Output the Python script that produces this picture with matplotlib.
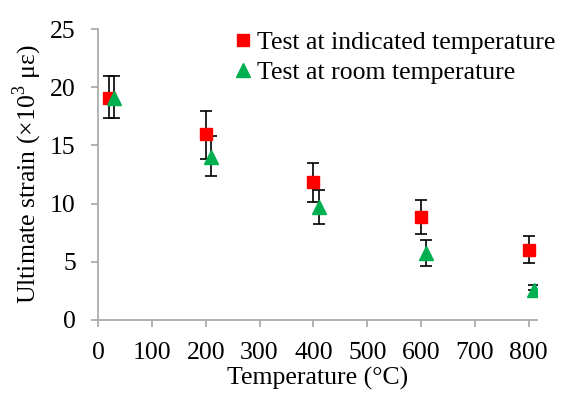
import matplotlib
matplotlib.use('Agg')
import matplotlib.pyplot as plt

# data
temp_hot = [20, 200, 400, 600, 800]
strain_hot = [19.1, 15.95, 11.85, 8.85, 6.0]
hot_lo = [17.35, 13.8, 10.1, 7.4, 4.9]
hot_hi = [20.95, 17.95, 13.5, 10.3, 7.2]

temp_room = [30, 210, 410, 610, 810]
strain_room = [19.1, 14.0, 9.7, 5.75, 2.6]
room_lo = [17.35, 12.4, 8.25, 4.65, 2.55]
room_hi = [20.95, 15.8, 11.2, 6.9, 3.0]

plt.rcParams['font.family'] = ['Liberation Serif', 'DejaVu Serif']
plt.rcParams['mathtext.fontset'] = 'custom'
plt.rcParams['mathtext.rm'] = 'Liberation Serif'

fig = plt.figure(figsize=(5.61, 3.93), dpi=100)
ax = fig.add_axes([0.1747, 0.1858, 0.7823, 0.7402])

err_hot = [[s - l for s, l in zip(strain_hot, hot_lo)], [h - s for s, h in zip(strain_hot, hot_hi)]]
err_room = [[s - l for s, l in zip(strain_room, room_lo)], [h - s for s, h in zip(strain_room, room_hi)]]

ax.errorbar(temp_hot, strain_hot, yerr=err_hot, fmt='none', ecolor='black',
            elinewidth=1.2, capsize=4.5, capthick=1.2, zorder=2)
ax.errorbar(temp_room, strain_room, yerr=err_room, fmt='none', ecolor='black',
            elinewidth=1.2, capsize=4.5, capthick=1.2, zorder=2)
ax.plot(temp_hot, strain_hot, 's', color='#FF0000', markersize=8.5,
        label='Test at indicated temperature', zorder=3)
ax.plot(temp_room, strain_room, '^', color='#00B050', markersize=9.5,
        label='Test at room temperature', zorder=3)

ax.set_xlim(0, 815)
ax.set_ylim(0, 25)
ax.set_xticks(range(0, 801, 100))
ax.set_yticks(range(0, 26, 5))

for s in ['top', 'right']:
    ax.spines[s].set_visible(False)
for s in ['left', 'bottom']:
    ax.spines[s].set_color('#A6A6A6')
    ax.spines[s].set_linewidth(1.2)
ax.tick_params(direction='out', length=5, width=1.2, color='#A6A6A6',
               labelsize=18.5, pad=11)

ax.set_xlabel('Temperature (°C)', fontsize=18.5, labelpad=2)
ax.set_ylabel('Ultimate strain (×10$^3$ με)', fontsize=18.5, labelpad=4)

ax.legend(loc='upper right', bbox_to_anchor=(0.99, 0.92), bbox_transform=fig.transFigure,
          frameon=False, fontsize=18.5, handlelength=0.5, handletextpad=0.3,
          labelspacing=0.24, borderaxespad=0, borderpad=0)

fig.savefig('out.png', dpi=100)
